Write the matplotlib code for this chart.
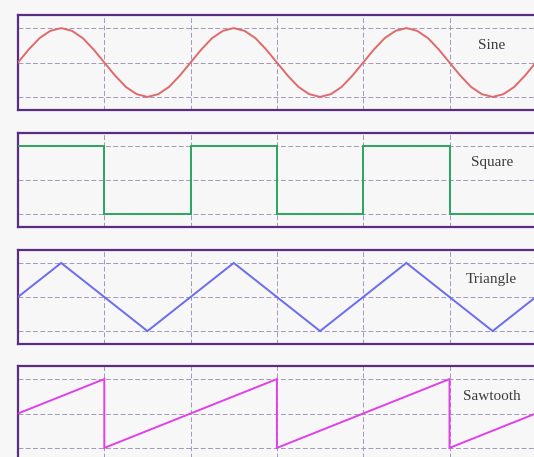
import numpy as np
import matplotlib
matplotlib.use("Agg")
import matplotlib.pyplot as plt

# ---- data (x in grid-cell units) ----
sine_x = [i / 8 for i in range(51)]
sine_y = [0, .38, .71, .92, 1, .92, .71, .38, 0, -.38, -.71, -.92, -1, -.92, -.71, -.38,
          0, .38, .71, .92, 1, .92, .71, .38, 0, -.38, -.71, -.92, -1, -.92, -.71, -.38,
          0, .38, .71, .92, 1, .92, .71, .38, 0, -.38, -.71, -.92, -1, -.92, -.71, -.38,
          0, .38, .71]

square_x = [0, 1, 1, 2, 2, 3, 3, 4, 4, 5, 5, 6.5]
square_y = [1, 1, -1, -1, 1, 1, -1, -1, 1, 1, -1, -1]

triangle_x = [0, 0.5, 1.5, 2.5, 3.5, 4.5, 5.5, 6.5]
triangle_y = [0, 1, -1, 1, -1, 1, -1, 1]

saw_x = [0, 1, 1, 3, 3, 5, 5, 6.5]
saw_y = [0, 1, -1, 1, -1, 1, -1, 0.5]

labels = ["Sine", "Square", "Triangle", "Sawtooth"]
colors = ["#e06a6a", "#2aa65f", "#6a6cf0", "#e040e8"]
series = [(sine_x, sine_y), (square_x, square_y), (triangle_x, triangle_y), (saw_x, saw_y)]

W, H = 534, 457
fig = plt.figure(figsize=(W / 100, H / 100), dpi=100)
fig.patch.set_facecolor("#f7f7f7")

left_px, right_px = 18, 545
panels_px = [(15, 110), (132.5, 227), (250, 344), (366, 461)]
cell = 86.3
xmax = (right_px - left_px) / cell

for (top, bot), (xs, ys), lab, col in zip(panels_px, series, labels, colors):
    ax = fig.add_axes([left_px / W, 1 - bot / H, (right_px - left_px) / W, (bot - top) / H])
    ax.set_facecolor("none")
    ax.set_xlim(0, xmax)
    ax.set_ylim(-1.38, 1.38)
    for xv in range(1, 7):
        ax.axvline(xv, color="#a398bb", lw=0.7, ls=(0, (5, 2.5)), zorder=1)
    for yv in (-1, 0, 1):
        ax.axhline(yv, color="#a398bb", lw=0.7, ls=(0, (5, 2.5)), zorder=1)
    ax.plot(xs, ys, color=col, lw=1.4, zorder=3, solid_joinstyle="miter")
    ax.text(5.49, 0.5, lab, family="Liberation Serif", fontsize=11, color="#3c3c3c",
            ha="center", va="center", zorder=4)
    ax.set_xticks([])
    ax.set_yticks([])
    for s in ax.spines.values():
        s.set_color("#5a2d82")
        s.set_linewidth(1.6)

fig.savefig("out.png", dpi=100, facecolor=fig.get_facecolor())
